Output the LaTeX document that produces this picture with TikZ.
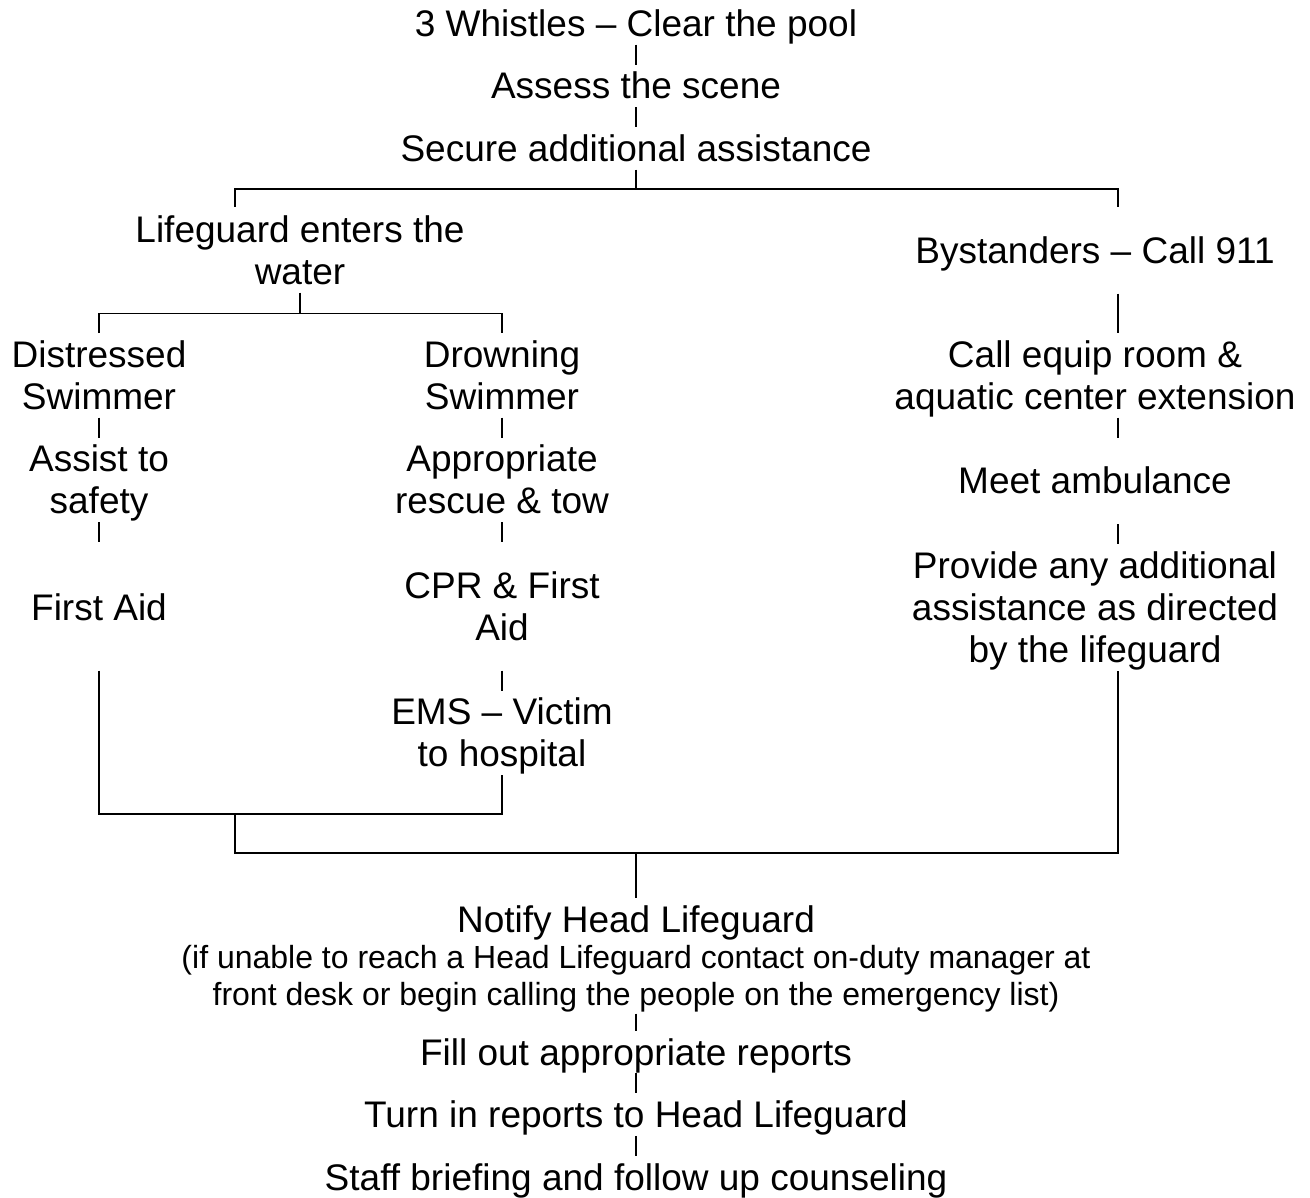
\documentclass[tikz,border=0pt]{standalone}
\usepackage{fontspec}
\setmainfont{Liberation Sans}
\usetikzlibrary{positioning}
\newcommand\rowstrut{\rule[-6pt]{0pt}{31.5pt}}
\tikzset{
  node distance=15pt, % length of a short connector
  stage/.style={align=center, inner sep=0pt, anchor=north,
    font=\fontsize{27.75pt}{31.5pt}\selectfont,
    execute at begin node=\rowstrut, execute at end node=\rowstrut}, % same row height everywhere
  note/.style={stage, font=\fontsize{24pt}{27.75pt}\selectfont},
  link/.style={line width=1.4pt},
}
\begin{document}
\begin{tikzpicture}[x=0.75pt, y=-0.75pt]
  \useasboundingbox (0,0) rectangle (1310,1198);
  % first steps
  \node[stage] (whistle) at (636,2) {3 Whistles – Clear the pool};
  \node[stage, below=of whistle] (assess) {Assess the scene};
  \node[stage, below=of assess] (secure) {Secure additional assistance};
  % lifeguard side
  \node[stage] (lifeguard) at (300,208) {\rowstrut Lifeguard enters the\\water};
  \node[stage] (distressed) at (99,333) {\rowstrut Distressed\\Swimmer};
  \node[stage] (drowning) at (502,333) {\rowstrut Drowning\\Swimmer};
  \node[stage, below=of distressed] (assist) {\rowstrut Assist to\\safety};
  \node[stage, below=of drowning] (rescue) {\rowstrut Appropriate\\rescue \& tow};
  \node[stage] (firstaid) at (99,586) {First Aid};
  \node[stage] (cpr) at (502,564) {\rowstrut CPR \& First\\Aid};
  \node[stage, below=31.5pt of cpr] (ems) {\rowstrut EMS – Victim\\to hospital};
  % bystander side
  \node[stage] (bystanders) at (1095,229) {Bystanders – Call 911};
  \node[stage] (callroom) at (1095,333) {\rowstrut Call equip room \&\\aquatic center extension};
  \node[stage, below=31.5pt of callroom] (meet) {Meet ambulance};
  \node[stage, below=31.5pt of meet] (provide) {\rowstrut Provide any additional\\assistance as directed\\by the lifeguard};
  % after the rescue
  \node[stage] (notify) at (636,898) {Notify Head Lifeguard};
  \node[note] (contact) at (636,934) {\rowstrut(if unable to reach a Head Lifeguard contact on-duty manager at\\front desk or begin calling the people on the emergency list)};
  \node[stage, below=13pt of contact] (reports) {Fill out appropriate reports};
  \node[stage, below=of reports] (turnin) {Turn in reports to Head Lifeguard};
  \node[stage, below=of turnin] (briefing) {Staff briefing and follow up counseling};

  \coordinate (colR) at (1118,0);
  \coordinate (forkL) at (235,207);
  \coordinate (forkA) at (636,189);
  \coordinate (mergeL) at (235,814);
  \coordinate (mergeB) at (636,853);

  \draw[link] (whistle.south) -- (assess.north);
  \draw[link] (assess.south) -- (secure.north);
  \draw[link] (secure.south) -- (forkA);
  \draw[link] (forkL) |- (forkA) -| (colR |- forkL);
  \draw[link] (lifeguard.south) -- ++(0,21) coordinate (forkB);
  \draw[link] (distressed.north) |- (forkB) -| (drowning.north);
  \draw[link] (distressed.south) -- (assist.north);
  \draw[link] (drowning.south) -- (rescue.north);
  \draw[link, shorten >=33pt] (assist.south) -- (firstaid.north);
  \draw[link, shorten >=16.5pt] (rescue.south) -- (cpr.north);
  \draw[link, shorten <=16.5pt] (cpr.south) -- (ems.north);
  \draw[link, shorten <=31.5pt] (firstaid.south) |- (mergeL) -| (ems.south);
  \draw[link, shorten <=16.5pt] (bystanders.south -| colR) -- (callroom.north -| colR);
  \draw[link, shorten >=16.5pt] (callroom.south -| colR) -- (meet.north -| colR);
  \draw[link, shorten <=16.5pt] (meet.south -| colR) -- (provide.north -| colR);
  \draw[link] (mergeL) |- (mergeB) -| (provide.south -| colR);
  \draw[link] (mergeB) -- (notify.north);
  \draw[link] (contact.south) -- (reports.north);
  \draw[link] (reports.south) -- (turnin.north);
  \draw[link] (turnin.south) -- (briefing.north);
\end{tikzpicture}
\end{document}
